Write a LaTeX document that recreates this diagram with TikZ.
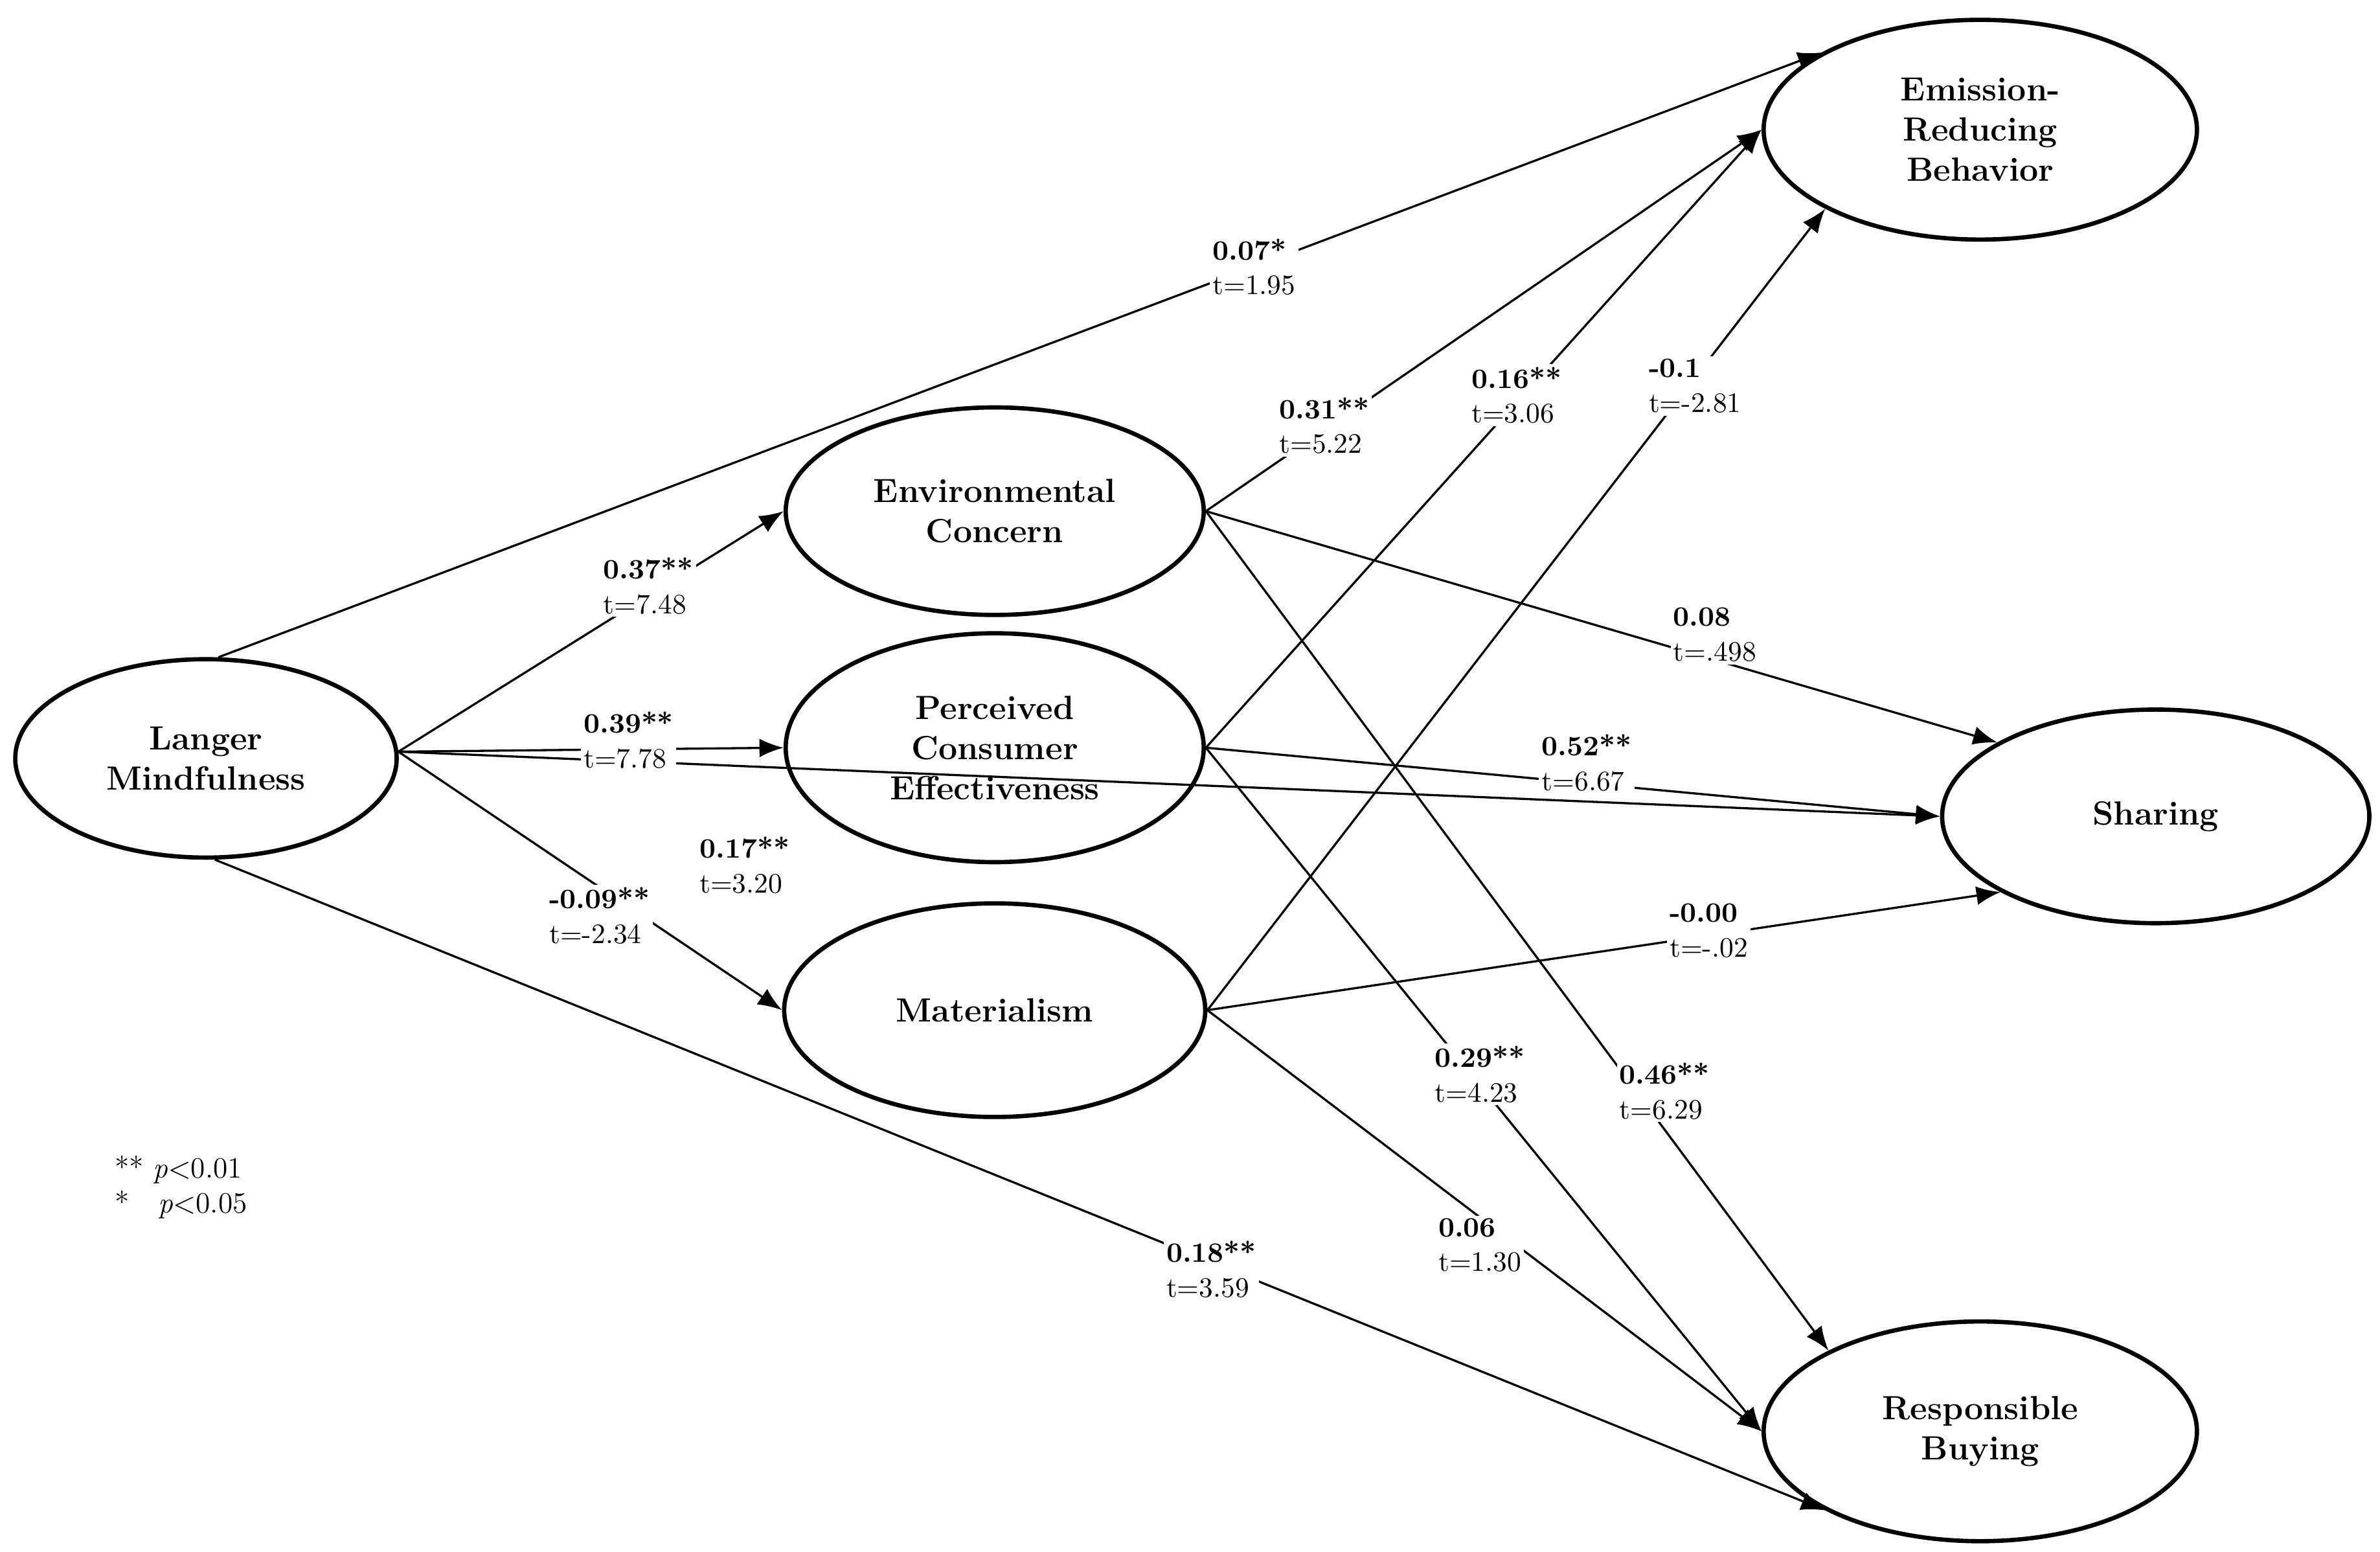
\documentclass[tikz,border=0pt]{standalone}
\usetikzlibrary{shapes.geometric,arrows.meta}
\begin{document}
\begin{tikzpicture}[x=0.02cm,y=-0.02cm,
  lat/.style={ellipse,draw,line width=1.6pt,inner sep=0pt,align=center,font=\fontsize{12.5}{15}\selectfont\bfseries},
  path/.style={line width=0.8pt,-{Latex[length=9pt,width=7pt]}},
  lab/.style={fill=white,inner sep=1pt,align=left,font=\fontsize{10.5}{13}\selectfont}]
\useasboundingbox (0,0) rectangle (1560,1017);
\node[lat,minimum width=250*0.02cm,minimum height=130*0.02cm] (LM) at (135,497) {Langer\\Mindfulness};
\node[lat,minimum width=274*0.02cm,minimum height=136*0.02cm] (EC) at (652,335) {Environmental\\Concern};
\node[lat,minimum width=274*0.02cm,minimum height=150*0.02cm] (PCE) at (652,490) {Perceived\\Consumer\\Effectiveness};
\node[lat,minimum width=276*0.02cm,minimum height=140*0.02cm] (MAT) at (652,662) {Materialism};
\node[lat,minimum width=284*0.02cm,minimum height=144*0.02cm] (ER) at (1298,85) {Emission-\\Reducing\\Behavior};
\node[lat,minimum width=280*0.02cm,minimum height=140*0.02cm] (SH) at (1413,535) {Sharing};
\node[lat,minimum width=284*0.02cm,minimum height=144*0.02cm] (RB) at (1298,938) {Responsible\\Buying};

\draw[path] (LM.83) -- (ER.154);
\draw[path] (LM.2) -- (EC.180);
\draw[path] (LM.2) -- (PCE.180);
\draw[path] (LM.2) -- (SH.180);
\draw[path] (LM.2) -- (MAT.180);
\draw[path] (LM.-85) -- (RB.-153);
\draw[path] (EC.0) -- (ER.180);
\draw[path] (EC.0) -- (SH.155);
\draw[path] (EC.0) -- (RB.152);
\draw[path] (PCE.0) -- (ER.180);
\draw[path] (PCE.0) -- (SH.180);
\draw[path] (PCE.0) -- (RB.180);
\draw[path] (MAT.0) -- (ER.-153);
\draw[path] (MAT.0) -- (SH.-154);
\draw[path] (MAT.0) -- (RB.180);

\node[lab] (l1) at (822,175) {\textbf{0.07*}\\t=1.95};
\node[lab] (l2) at (425,384) {\textbf{0.37**}\\t=7.48};
\node[lab] (l3) at (412,485) {\textbf{0.39**}\\t=7.78};
\node[lab] (l4) at (488,567) {\textbf{0.17**}\\t=3.20};
\node[lab] (l5) at (393,600) {\textbf{-0.09**}\\t=-2.34};
\node[lab] (l6) at (794,832) {\textbf{0.18**}\\t=3.59};
\node[lab] (l7) at (868,279) {\textbf{0.31**}\\t=5.22};
\node[lab] (l8) at (994,259) {\textbf{0.16**}\\t=3.06};
\node[lab] (l9) at (1111,253) {\textbf{-0.1}\\t=-2.81};
\node[lab] (l10) at (1124,416) {\textbf{0.08}\\t=.498};
\node[lab] (l11) at (1040,500) {\textbf{0.52**}\\t=6.67};
\node[lab] (l12) at (1120,610) {\textbf{-0.00}\\t=-.02};
\node[lab] (l13) at (970,704) {\textbf{0.29**}\\t=4.23};
\node[lab] (l14) at (1091,715) {\textbf{0.46**}\\t=6.29};
\node[lab] (l15) at (970,816) {\textbf{0.06}\\t=1.30};

\node[anchor=north west,align=left,font=\fontsize{11}{13}\selectfont,inner sep=0pt] (fn) at (75,757) {** \textit{p}$<$0.01\\*\ \ \ \textit{p}$<$0.05};
\end{tikzpicture}
\end{document}
